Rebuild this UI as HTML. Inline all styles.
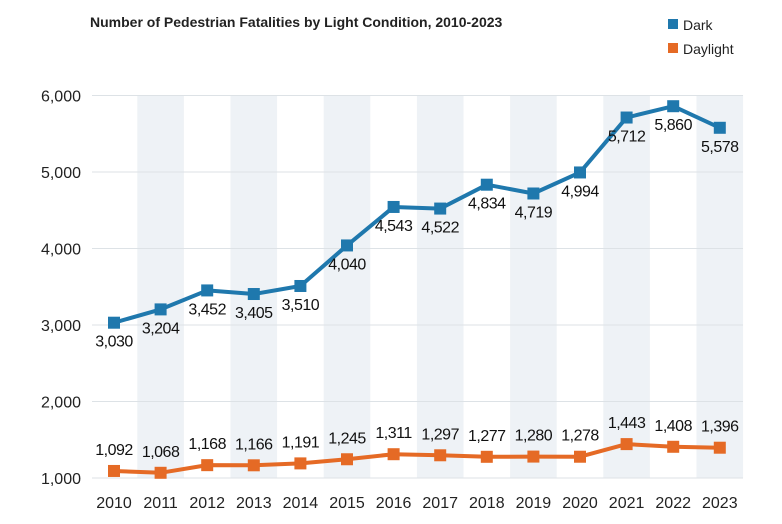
<!DOCTYPE html>
<html><head><meta charset="utf-8"><style>
body{margin:0;background:#fff;}
svg{display:block;font-family:"Liberation Sans",Arial,sans-serif;}
</style></head><body>
<svg id="chart" width="782" height="524" viewBox="0 0 782 524">
<text x="90" y="27" font-size="14" font-weight="bold" fill="#222">Number of Pedestrian Fatalities by Light Condition, 2010-2023</text>
<g>
<g><rect x="668" y="19" width="10" height="10" fill="#1f78ad"/><text x="683" y="30" font-size="14" fill="#222">Dark</text></g>
<g><rect x="668" y="43" width="10" height="10" fill="#e56a25"/><text x="683" y="54" font-size="14" fill="#222">Daylight</text></g>
</g>
<g id="bands"></g><g id="grid"></g><g id="series"></g><g id="labels"></g>
</svg>
<script>
const years=[2010,2011,2012,2013,2014,2015,2016,2017,2018,2019,2020,2021,2022,2023];
const dark=[3030,3204,3452,3405,3510,4040,4543,4522,4834,4719,4994,5712,5860,5578];
const daylight=[1092,1068,1168,1166,1191,1245,1311,1297,1277,1280,1278,1443,1408,1396];
const yTicks=[1000,2000,3000,4000,5000,6000];
const NS="http://www.w3.org/2000/svg";
const x0=114,step=46.6,yBase=478,pxPer=76.5/1000;
const X=i=>x0+i*step;
const Y=v=>yBase-(v-1000)*pxPer;
function mk(t,a,p){const e=document.createElementNS(NS,t);for(const k in a)e.setAttribute(k,a[k]);p.appendChild(e);return e;}
const fmt=v=>v.toLocaleString('en-US');
const bands=document.getElementById('bands'),grid=document.getElementById('grid'),ser=document.getElementById('series'),lab=document.getElementById('labels');
years.forEach((yr,i)=>{
  if(i%2===1){const r=mk('rect',{x:X(i)-23.3,y:Y(6000),width:step,height:Y(1000)-Y(6000),fill:'#eef2f6'},bands);
  
  }
  const t=mk('text',{x:X(i),y:508,'font-size':16,'text-anchor':'middle',fill:'#222'},lab);t.textContent=yr;
  
  
});
yTicks.forEach(v=>{
  const l=mk('line',{x1:92,x2:743,y1:Y(v),y2:Y(v),stroke:'#dde2e6','stroke-width':1},grid);
  
  
  const t=mk('text',{x:81,y:Y(v)+6,'font-size':16,'text-anchor':'end',fill:'#222'},lab);t.textContent=fmt(v);
  
  
});
function series(data,color,name,dy){
  const pl=mk('polyline',{points:data.map((v,i)=>X(i)+','+Y(v)).join(' '),fill:'none',stroke:color,'stroke-width':4,'stroke-linejoin':'round'},ser);
  
  
  data.forEach((v,i)=>{
    const r=mk('rect',{x:X(i)-6,y:Y(v)-6,width:12,height:12,fill:color},ser);
    
    
    const t=mk('text',{x:X(i),y:Y(v)+dy,'font-size':16,'text-anchor':'middle',fill:'#111','letter-spacing':'-0.5'},lab);t.textContent=fmt(v);
    
    
  });
}
series(dark,'#1f78ad','dark',24);
series(daylight,'#e56a25','daylight',-16);
</script>
</body></html>
